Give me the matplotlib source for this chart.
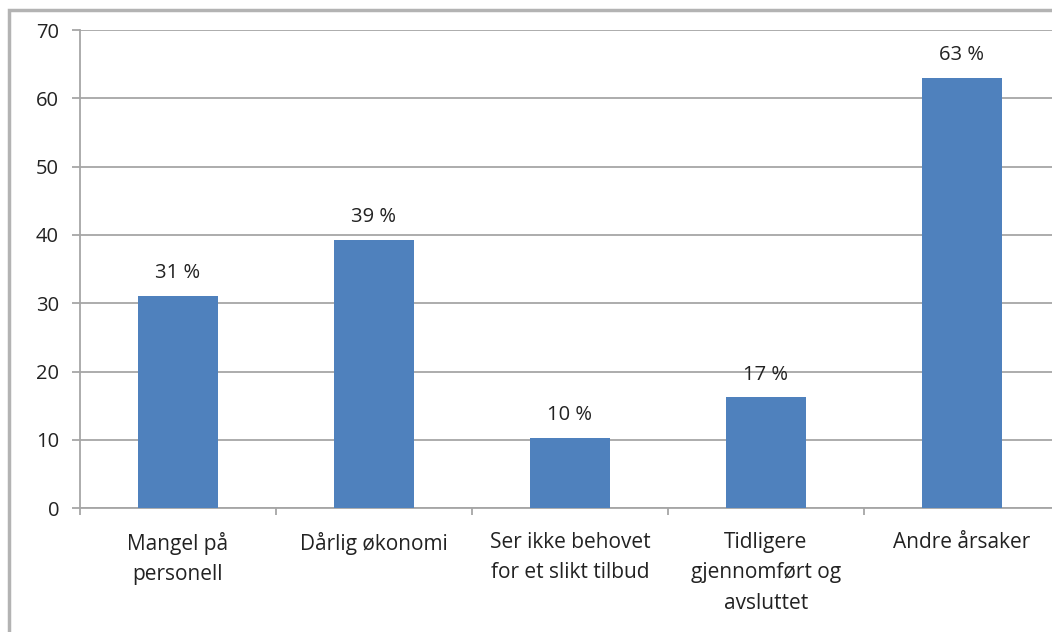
import matplotlib.pyplot as plt
from matplotlib.patches import Rectangle

kategorier = [
    "Mangel på\npersonell",
    "Dårlig økonomi",
    "Ser ikke behovet\nfor et slikt tilbud",
    "Tidligere\ngjennomført og\navsluttet",
    "Andre årsaker",
]
verdier = [31, 39.2, 10.2, 16.2, 63]
etiketter = ["31 %", "39 %", "10 %", "17 %", "63 %"]

plt.rcParams['font.family'] = ['Open Sans', 'DejaVu Sans']

fig = plt.figure(figsize=(10.52, 6.32), dpi=100)
ax = fig.add_axes([0.076, 0.196, 0.9316, 0.7565])

x = range(len(kategorier))
bars = ax.bar(x, verdier, width=0.41, color='#4f81bd', zorder=3)

ax.set_xlim(-0.5, len(kategorier) - 0.5)
ax.set_ylim(0, 70)
ax.set_yticks(range(0, 71, 10))
ax.yaxis.grid(True, color='#a6a6a6', linewidth=1.3, zorder=0)

ax.set_xticks(list(x))
ax.set_xticklabels(kategorier, fontsize=15, color='#222222', linespacing=1.6)
ax.set_xticks([i + 0.5 for i in range(-1, len(kategorier))], minor=True)
ax.tick_params(axis='x', which='major', length=0, pad=17)
ax.tick_params(axis='x', which='minor', length=5, width=1.3, color='#a6a6a6', direction='out')
ax.tick_params(axis='y', length=6, width=1.3, color='#a6a6a6', labelsize=14.5,
               labelcolor='#222222', pad=9)

for side in ['top', 'right']:
    ax.spines[side].set_visible(False)
for side in ['left', 'bottom']:
    ax.spines[side].set_color('#a6a6a6')
    ax.spines[side].set_linewidth(1.3)

# verdier over stolpene
for bar, tekst in zip(bars, etiketter):
    ax.text(bar.get_x() + bar.get_width() / 2, bar.get_height() + 1.9, tekst,
            ha='center', va='bottom', fontsize=14.5, color='#222222')

# grå ramme rundt diagrammet
fig.patches.append(Rectangle((9 / 1052, -0.1), 1.1, (632 - 10) / 632 + 0.1,
                             transform=fig.transFigure, fill=False,
                             edgecolor='#b3b3b3', linewidth=2.5))

fig.savefig('out.png', dpi=100)
